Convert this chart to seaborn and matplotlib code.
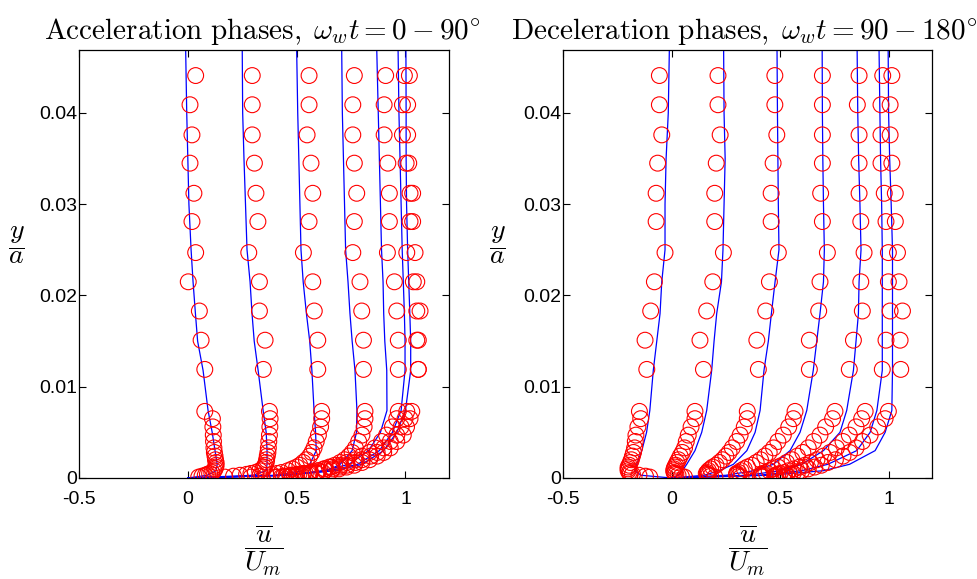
import numpy as np
import pandas as pd
import matplotlib
matplotlib.use("Agg")
import matplotlib.pyplot as plt
import seaborn as sns

# ---------------- data ----------------
# y/a levels for model profiles (blue lines)
Y_LINE = [0, 0.0003, 0.0008, 0.0015, 0.003, 0.005, 0.0074, 0.0118, 0.015,
          0.018, 0.0215, 0.025, 0.03, 0.035, 0.04, 0.047]

# acceleration phases 0,15,30,45,60,75,90 deg  (u/Um)
ACC_LINE_0 = [0, 0.09, 0.13, 0.135, 0.125, 0.112, 0.093, 0.07, 0.045, 0.035, 0.024, 0.015, 0.005, 0.0, -0.005, -0.01]
ACC_LINE_15 = [0, 0.30, 0.36, 0.364, 0.364, 0.36, 0.346, 0.323, 0.305, 0.295, 0.286, 0.272, 0.265, 0.258, 0.252, 0.25]
ACC_LINE_30 = [0, 0.40, 0.53, 0.56, 0.59, 0.587, 0.58, 0.57, 0.56, 0.545, 0.53, 0.52, 0.515, 0.51, 0.505, 0.50]
ACC_LINE_45 = [0, 0.45, 0.64, 0.70, 0.755, 0.775, 0.777, 0.768, 0.755, 0.745, 0.736, 0.725, 0.72, 0.715, 0.71, 0.707]
ACC_LINE_60 = [0, 0.45, 0.62, 0.74, 0.83, 0.885, 0.915, 0.914, 0.905, 0.90, 0.897, 0.89, 0.885, 0.88, 0.875, 0.868]
ACC_LINE_75 = [0, 0.45, 0.65, 0.78, 0.88, 0.94, 0.98, 0.998, 0.998, 0.995, 0.99, 0.985, 0.98, 0.975, 0.97, 0.966]
ACC_LINE_90 = [0, 0.45, 0.68, 0.80, 0.90, 0.96, 1.00, 1.024, 1.024, 1.02, 1.015, 1.01, 1.005, 1.003, 1.003, 1.002]

# deceleration phases 90,105,120,135,150,165,180 deg
DEC_LINE_90 = [0, 0.45, 0.70, 0.82, 0.938, 0.984, 1.015, 1.018, 1.018, 1.018, 1.018, 1.018, 1.012, 1.005, 1.0, 0.998]
DEC_LINE_105 = [0, 0.40, 0.60, 0.72, 0.853, 0.915, 0.946, 0.971, 0.971, 0.971, 0.971, 0.971, 0.968, 0.963, 0.96, 0.956]
DEC_LINE_120 = [0, 0.35, 0.50, 0.60, 0.70, 0.776, 0.807, 0.838, 0.85, 0.861, 0.864, 0.873, 0.868, 0.862, 0.858, 0.855]
DEC_LINE_135 = [0, 0.25, 0.38, 0.469, 0.546, 0.592, 0.623, 0.653, 0.669, 0.684, 0.70, 0.704, 0.70, 0.697, 0.695, 0.694]
DEC_LINE_150 = [0, 0.15, 0.22, 0.285, 0.347, 0.385, 0.408, 0.426, 0.446, 0.46, 0.477, 0.495, 0.492, 0.49, 0.488, 0.486]
DEC_LINE_165 = [0, 0.03, 0.05, 0.07, 0.108, 0.139, 0.162, 0.185, 0.196, 0.208, 0.23, 0.237, 0.242, 0.247, 0.242, 0.24]
DEC_LINE_180 = [0, -0.14, -0.17, -0.16, -0.137, -0.115, -0.10, -0.084, -0.068, -0.053, -0.045, -0.03, -0.03, -0.025, -0.015, -0.01]

# y/a levels of measurements (red circles)
Y_PTS = [0.0441, 0.0409, 0.0376, 0.0345, 0.0312, 0.0281, 0.0247, 0.0215, 0.0183,
         0.0151, 0.0119, 0.0073, 0.0065, 0.0056, 0.0047, 0.0040, 0.0033, 0.0028,
         0.0024, 0.0020, 0.0017, 0.0014, 0.0012, 0.0010, 0.0008, 0.0006, 0.0005,
         0.0004, 0.0003, 0.0002, 0.0001]

ACC_PTS_0 = [0.036, 0.010, 0.019, 0.010, 0.028, 0.019, 0.036, 0.002, 0.053, 0.061, 0.078,
             0.078, 0.113, 0.115, 0.117, 0.118, 0.12, 0.122, 0.125, 0.127, 0.13, 0.13, 0.128, 0.125, 0.12, 0.11, 0.10, 0.09, 0.08, 0.065, 0.05]
ACC_PTS_15 = [0.296, 0.296, 0.296, 0.306, 0.313, 0.322, 0.280, 0.329, 0.329, 0.355, 0.347,
              0.375, 0.378, 0.377, 0.375, 0.372, 0.37, 0.368, 0.365, 0.362, 0.36, 0.355, 0.35, 0.345, 0.33, 0.31, 0.29, 0.27, 0.24, 0.21, 0.17]
ACC_PTS_30 = [0.557, 0.557, 0.548, 0.566, 0.574, 0.557, 0.531, 0.574, 0.581, 0.597, 0.597,
              0.615, 0.615, 0.61, 0.60, 0.59, 0.58, 0.57, 0.56, 0.545, 0.53, 0.515, 0.50, 0.48, 0.46, 0.43, 0.41, 0.385, 0.36, 0.33, 0.29]
ACC_PTS_45 = [0.765, 0.758, 0.758, 0.765, 0.776, 0.765, 0.758, 0.791, 0.799, 0.807, 0.807,
              0.814, 0.814, 0.81, 0.80, 0.785, 0.77, 0.755, 0.74, 0.72, 0.70, 0.675, 0.65, 0.625, 0.60, 0.565, 0.54, 0.51, 0.48, 0.45, 0.41]
ACC_PTS_60 = [0.909, 0.902, 0.902, 0.919, 0.926, 0.926, 0.917, 0.949, 0.96, 0.967, 0.967,
              0.967, 0.96, 0.94, 0.913, 0.89, 0.86, 0.835, 0.80, 0.77, 0.73, 0.70, 0.66, 0.63, 0.60, 0.56, 0.53, 0.50, 0.47, 0.44, 0.40]
ACC_PTS_75 = [0.995, 0.986, 0.986, 1.003, 1.021, 1.021, 1.006, 1.036, 1.052, 1.052, 1.059,
              1.006, 0.998, 0.98, 0.96, 0.93, 0.90, 0.87, 0.84, 0.80, 0.77, 0.73, 0.70, 0.665, 0.63, 0.59, 0.56, 0.53, 0.50, 0.47, 0.43]
ACC_PTS_90 = [1.018, 1.010, 1.010, 1.015, 1.033, 1.033, 1.044, 1.052, 1.067, 1.059, 1.059,
              1.029, 1.021, 1.005, 0.99, 0.96, 0.93, 0.90, 0.87, 0.835, 0.80, 0.765, 0.73, 0.695, 0.66, 0.62, 0.59, 0.555, 0.52, 0.49, 0.45]

DEC_PTS_90 = [1.015, 1.007, 1.007, 1.015, 1.031, 1.031, 1.041, 1.048, 1.064, 1.053, 1.056,
              0.999, 0.984, 0.95, 0.915, 0.88, 0.85, 0.82, 0.79, 0.755, 0.72, 0.69, 0.66, 0.63, 0.60, 0.58, 0.56, 0.545, 0.53, 0.52, 0.52]
DEC_PTS_105 = [0.973, 0.965, 0.965, 0.965, 0.98, 0.988, 0.999, 0.999, 1.007, 0.988, 0.971,
               0.892, 0.876, 0.85, 0.819, 0.79, 0.76, 0.73, 0.70, 0.67, 0.64, 0.615, 0.59, 0.565, 0.54, 0.52, 0.50, 0.49, 0.48, 0.475, 0.48]
DEC_PTS_120 = [0.864, 0.856, 0.864, 0.864, 0.864, 0.872, 0.887, 0.872, 0.879, 0.838, 0.819,
               0.753, 0.742, 0.71, 0.684, 0.655, 0.63, 0.605, 0.58, 0.555, 0.53, 0.51, 0.49, 0.47, 0.45, 0.435, 0.42, 0.415, 0.41, 0.41, 0.42]
DEC_PTS_135 = [0.695, 0.695, 0.695, 0.695, 0.687, 0.695, 0.718, 0.684, 0.678, 0.635, 0.635,
               0.569, 0.561, 0.54, 0.515, 0.49, 0.47, 0.45, 0.43, 0.41, 0.39, 0.37, 0.35, 0.335, 0.32, 0.31, 0.30, 0.30, 0.30, 0.31, 0.32]
DEC_PTS_150 = [0.476, 0.476, 0.485, 0.468, 0.459, 0.459, 0.492, 0.451, 0.434, 0.393, 0.40,
               0.349, 0.349, 0.335, 0.316, 0.30, 0.28, 0.265, 0.25, 0.235, 0.22, 0.205, 0.19, 0.18, 0.17, 0.165, 0.16, 0.165, 0.17, 0.18, 0.20]
DEC_PTS_165 = [0.214, 0.214, 0.224, 0.206, 0.199, 0.199, 0.239, 0.19, 0.162, 0.131, 0.147,
               0.108, 0.108, 0.09, 0.077, 0.068, 0.06, 0.05, 0.04, 0.032, 0.025, 0.02, 0.015, 0.012, 0.01, 0.012, 0.015, 0.02, 0.03, 0.045, 0.06]
DEC_PTS_180 = [-0.056, -0.056, -0.045, -0.064, -0.071, -0.071, -0.03, -0.079, -0.096, -0.122, -0.114,
               -0.148, -0.142, -0.155, -0.164, -0.167, -0.17, -0.175, -0.18, -0.185, -0.19, -0.195, -0.20, -0.20, -0.20, -0.195, -0.19, -0.18, -0.15, -0.12, -0.10]

X_TICKS = [-0.5, 0, 0.5, 1]
X_TICKLABELS = ["-0.5", "0", "0.5", "1"]
Y_TICKS = [0, 0.01, 0.02, 0.03, 0.04]
Y_TICKLABELS = ["0", "0.01", "0.02", "0.03", "0.04"]

TITLES = [r"$\mathrm{Acceleration\ phases,}\;\omega_w t = 0 - 90^{\circ}$",
          r"$\mathrm{Deceleration\ phases,}\;\omega_w t = 90 - 180^{\circ}$"]

acc_lines = [ACC_LINE_0, ACC_LINE_15, ACC_LINE_30, ACC_LINE_45, ACC_LINE_60, ACC_LINE_75, ACC_LINE_90]
dec_lines = [DEC_LINE_90, DEC_LINE_105, DEC_LINE_120, DEC_LINE_135, DEC_LINE_150, DEC_LINE_165, DEC_LINE_180]
acc_pts = [ACC_PTS_0, ACC_PTS_15, ACC_PTS_30, ACC_PTS_45, ACC_PTS_60, ACC_PTS_75, ACC_PTS_90]
dec_pts = [DEC_PTS_90, DEC_PTS_105, DEC_PTS_120, DEC_PTS_135, DEC_PTS_150, DEC_PTS_165, DEC_PTS_180]

# ---------------- style ----------------
sns.set_theme(style="white")
plt.rcParams["font.family"] = ["Liberation Sans", "DejaVu Sans"]
plt.rcParams["mathtext.fontset"] = "cm"

fig = plt.figure(figsize=(9.77, 5.79), dpi=100)
axL = fig.add_axes([79 / 977, 1 - 478 / 579, 370 / 977, 428 / 579])
axR = fig.add_axes([563 / 977, 1 - 478 / 579, 369 / 977, 428 / 579])


def draw(ax, lines, pts, title, ylab_x, title_x):
    for lx in lines:
        df = pd.DataFrame({"u": lx, "y": Y_LINE})
        sns.lineplot(data=df, x="u", y="y", sort=False, estimator=None,
                     color=(0, 0, 1), lw=0.9, ax=ax)
    for px in pts:
        df = pd.DataFrame({"u": px, "y": Y_PTS})
        sns.scatterplot(data=df, x="u", y="y", marker="o", s=130,
                        linewidth=0.8, ax=ax, legend=False)
        coll = ax.collections[-1]
        coll.set_facecolor("none")
        coll.set_edgecolor((1, 0, 0))
        coll.set_zorder(3)
    ax.set_xlim(-0.5, 1.2)
    ax.set_ylim(0, 0.0469)
    ax.set_xticks(X_TICKS)
    ax.set_xticklabels(X_TICKLABELS)
    ax.set_yticks(Y_TICKS)
    ax.set_yticklabels(Y_TICKLABELS)
    ax.tick_params(direction="in", bottom=True, left=True, top=True, right=True,
                   length=5, width=0.8, labelsize=14, colors="black")
    ax.tick_params(axis="x", pad=9)
    ax.tick_params(axis="y", pad=1.5)
    for sp in ax.spines.values():
        sp.set_color("black")
        sp.set_linewidth(0.9)
        sp.set_visible(True)
    ax.set_title(title, fontsize=21, pad=8, color="black", x=title_x)
    ax.set_xlabel(r"$\dfrac{\overline{u}}{U_m}$", fontsize=20, color="black")
    ax.xaxis.set_label_coords(0.5, -0.168)
    ax.set_ylabel(r"$\dfrac{y}{a}$", fontsize=20, rotation=0, color="black")
    ax.yaxis.set_label_coords(ylab_x, 0.544)
    ax.xaxis.label.set_va("center")
    ax.yaxis.label.set_va("center")
    ax.yaxis.label.set_ha("center")


draw(axL, acc_lines, acc_pts, TITLES[0], -0.168, 0.496)
draw(axR, dec_lines, dec_pts, TITLES[1], -0.179, 0.49)

fig.savefig("out.png", dpi=100, facecolor="white")
